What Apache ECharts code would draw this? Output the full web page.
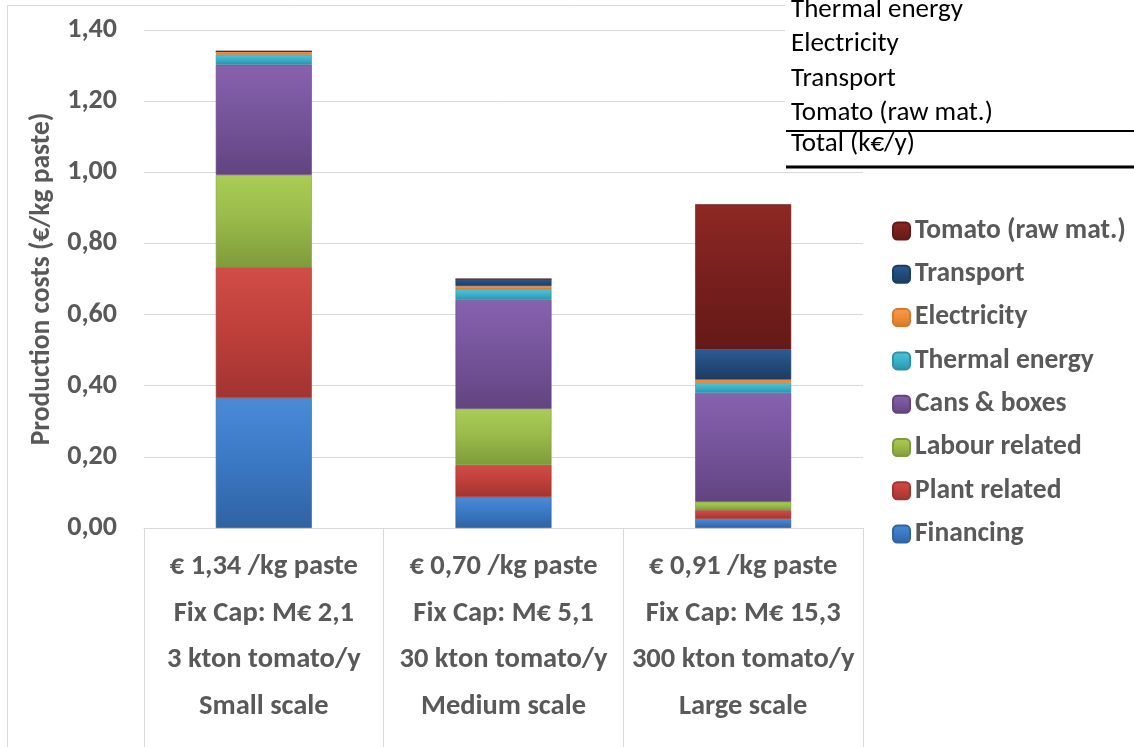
<!DOCTYPE html>
<html>
<head>
<meta charset="utf-8">
<title>Production costs of tomato paste by plant scale</title>
<script src="https://cdn.jsdelivr.net/npm/echarts@6/dist/echarts.min.js"></script>
<style>
  html, body { margin: 0; padding: 0; background: #ffffff; }
  #chart { width: 1134px; height: 747px; }
</style>
</head>
<body>
<div id="chart"></div>
<script>
// Plant scales and their descriptors (one table row per array)
const scaleNames = ['Small scale', 'Medium scale', 'Large scale'];
const fixCapital = ['2,1', '5,1', '15,3'];
const tomatoThroughput = ['3', '30', '300'];

// Cost components in €/kg paste, per scale (small, medium, large)
const financing   = [0.365, 0.087, 0.025];
const plantRel    = [0.368, 0.090, 0.025];
const labourRel   = [0.260, 0.158, 0.024];
const cansBoxes   = [0.310, 0.306, 0.306];
const thermal     = [0.028, 0.030, 0.028];
const electricity = [0.009, 0.009, 0.009];
const transport   = [0.000, 0.020, 0.085];
const tomatoRaw   = [0.000, 0.000, 0.408];

// Y axis ticks
const yMin = 0, yMax = 1.4, yStep = 0.2;

// Rows of the small cost table partly shown at the top right
const tableRows = ['Thermal energy', 'Electricity', 'Transport', 'Tomato (raw mat.)'];
const tableTotal = 'Total (k€/y)';

const FONT = 'Carlito, Lato, "Open Sans", sans-serif';
const GREY = '#595959';

const components = [
  { name: 'Financing',         data: financing,   c: ['#4a8ad6', '#3c7ac6', '#2f63a3'] },
  { name: 'Plant related',     data: plantRel,    c: ['#d24d47', '#c0403b', '#a13431'] },
  { name: 'Labour related',    data: labourRel,   c: ['#a9cd55', '#9bbb4b', '#7f9b3b'] },
  { name: 'Cans & boxes',      data: cansBoxes,   c: ['#8762ae', '#77559c', '#624480'] },
  { name: 'Thermal energy',    data: thermal,     c: ['#4cc6df', '#3cb2cc', '#2e92aa'] },
  { name: 'Electricity',       data: electricity, c: ['#fa9d50', '#f08c3a', '#d6792a'] },
  { name: 'Transport',         data: transport,   c: ['#2e5c94', '#244c7c', '#1b3c63'] },
  { name: 'Tomato (raw mat.)', data: tomatoRaw,   c: ['#8e2824', '#7a201e', '#641918'] }
];

const comma = v => v.toFixed(2).replace('.', ',');
const totals = scaleNames.map((_, i) => components.reduce((s, k) => s + k.data[i], 0));

const categoryLabels = scaleNames.map((n, i) =>
  '€ ' + comma(totals[i]) + ' /kg paste\n' +
  'Fix Cap: M€ ' + fixCapital[i] + '\n' +
  tomatoThroughput[i] + ' kton tomato/y\n' + n);

function grad(c) {
  return {
    type: 'linear', x: 0, y: 0, x2: 0, y2: 1,
    colorStops: [
      { offset: 0, color: c[0] },
      { offset: 0.45, color: c[1] },
      { offset: 1, color: c[2] }
    ]
  };
}

const series = components.map(k => ({
  name: k.name,
  type: 'bar',
  stack: 'cost',
  barWidth: 96,
  data: k.data,
  itemStyle: { color: grad(k.c), borderColor: k.c[2], borderWidth: 0.6 },
  emphasis: { disabled: true }
}));

const chart = echarts.init(document.getElementById('chart'), null, { renderer: 'canvas' });

const tableGraphics = tableRows.map((t, i) => ({
  type: 'text', left: 791, top: -3.5 + i * 34.5, z: 101,
  style: { text: t, font: '27px ' + FONT, fill: '#000000' }
}));

chart.setOption({
  animation: false,
  backgroundColor: '#ffffff',
  grid: { left: 144, right: 271, top: 30, bottom: 219, containLabel: false },
  legend: {
    orient: 'vertical',
    left: 887, top: 212,
    itemWidth: 17, itemHeight: 17, itemGap: 15.3,
    data: components.map(k => k.name).reverse(),
    textStyle: { fontFamily: FONT, fontWeight: 'bold', fontSize: 27.5, color: GREY, lineHeight: 28 },
    selectedMode: false
  },
  xAxis: {
    type: 'category',
    data: categoryLabels,
    axisLine: { show: true, lineStyle: { color: '#d9d9d9', width: 1 } },
    axisTick: { show: true, interval: 0, length: 220, lineStyle: { color: '#d9d9d9', width: 1 } },
    axisLabel: {
      interval: 0, margin: 16, lineHeight: 46.5,
      fontFamily: FONT, fontWeight: 'bold', fontSize: 28.5, color: GREY
    }
  },
  yAxis: {
    type: 'value',
    min: yMin, max: yMax, interval: yStep,
    name: 'Production costs (€/kg paste)',
    nameLocation: 'middle', nameGap: 80,
    nameTextStyle: { fontFamily: FONT, fontWeight: 'bold', fontSize: 27.5, color: GREY },
    axisLine: { show: false },
    axisTick: { show: false },
    axisLabel: {
      margin: 27, formatter: v => comma(v),
      fontFamily: FONT, fontWeight: 'bold', fontSize: 28, color: GREY
    },
    splitLine: { lineStyle: { color: '#d9d9d9', width: 1 } }
  },
  series: series,
  graphic: [
    // outer chart frame
    { type: 'rect', shape: { x: 7.5, y: 5.5, width: 1400, height: 1000 }, z: -1,
      style: { fill: null, stroke: '#d9d9d9', lineWidth: 1 } },
    // table block at the top right
    { type: 'rect', shape: { x: 785, y: 0, width: 349, height: 169 }, z: 100,
      style: { fill: '#ffffff' } }
  ].concat(tableGraphics).concat([
    { type: 'line', shape: { x1: 786, y1: 131, x2: 1134, y2: 131 }, z: 102,
      style: { stroke: '#000000', lineWidth: 2 } },
    { type: 'text', left: 791, top: 131, z: 101,
      style: { text: tableTotal, font: '27px ' + FONT, fill: '#000000' } },
    { type: 'line', shape: { x1: 786, y1: 167, x2: 1134, y2: 167 }, z: 102,
      style: { stroke: '#000000', lineWidth: 3 } }
  ])
});
</script>
</body>
</html>
